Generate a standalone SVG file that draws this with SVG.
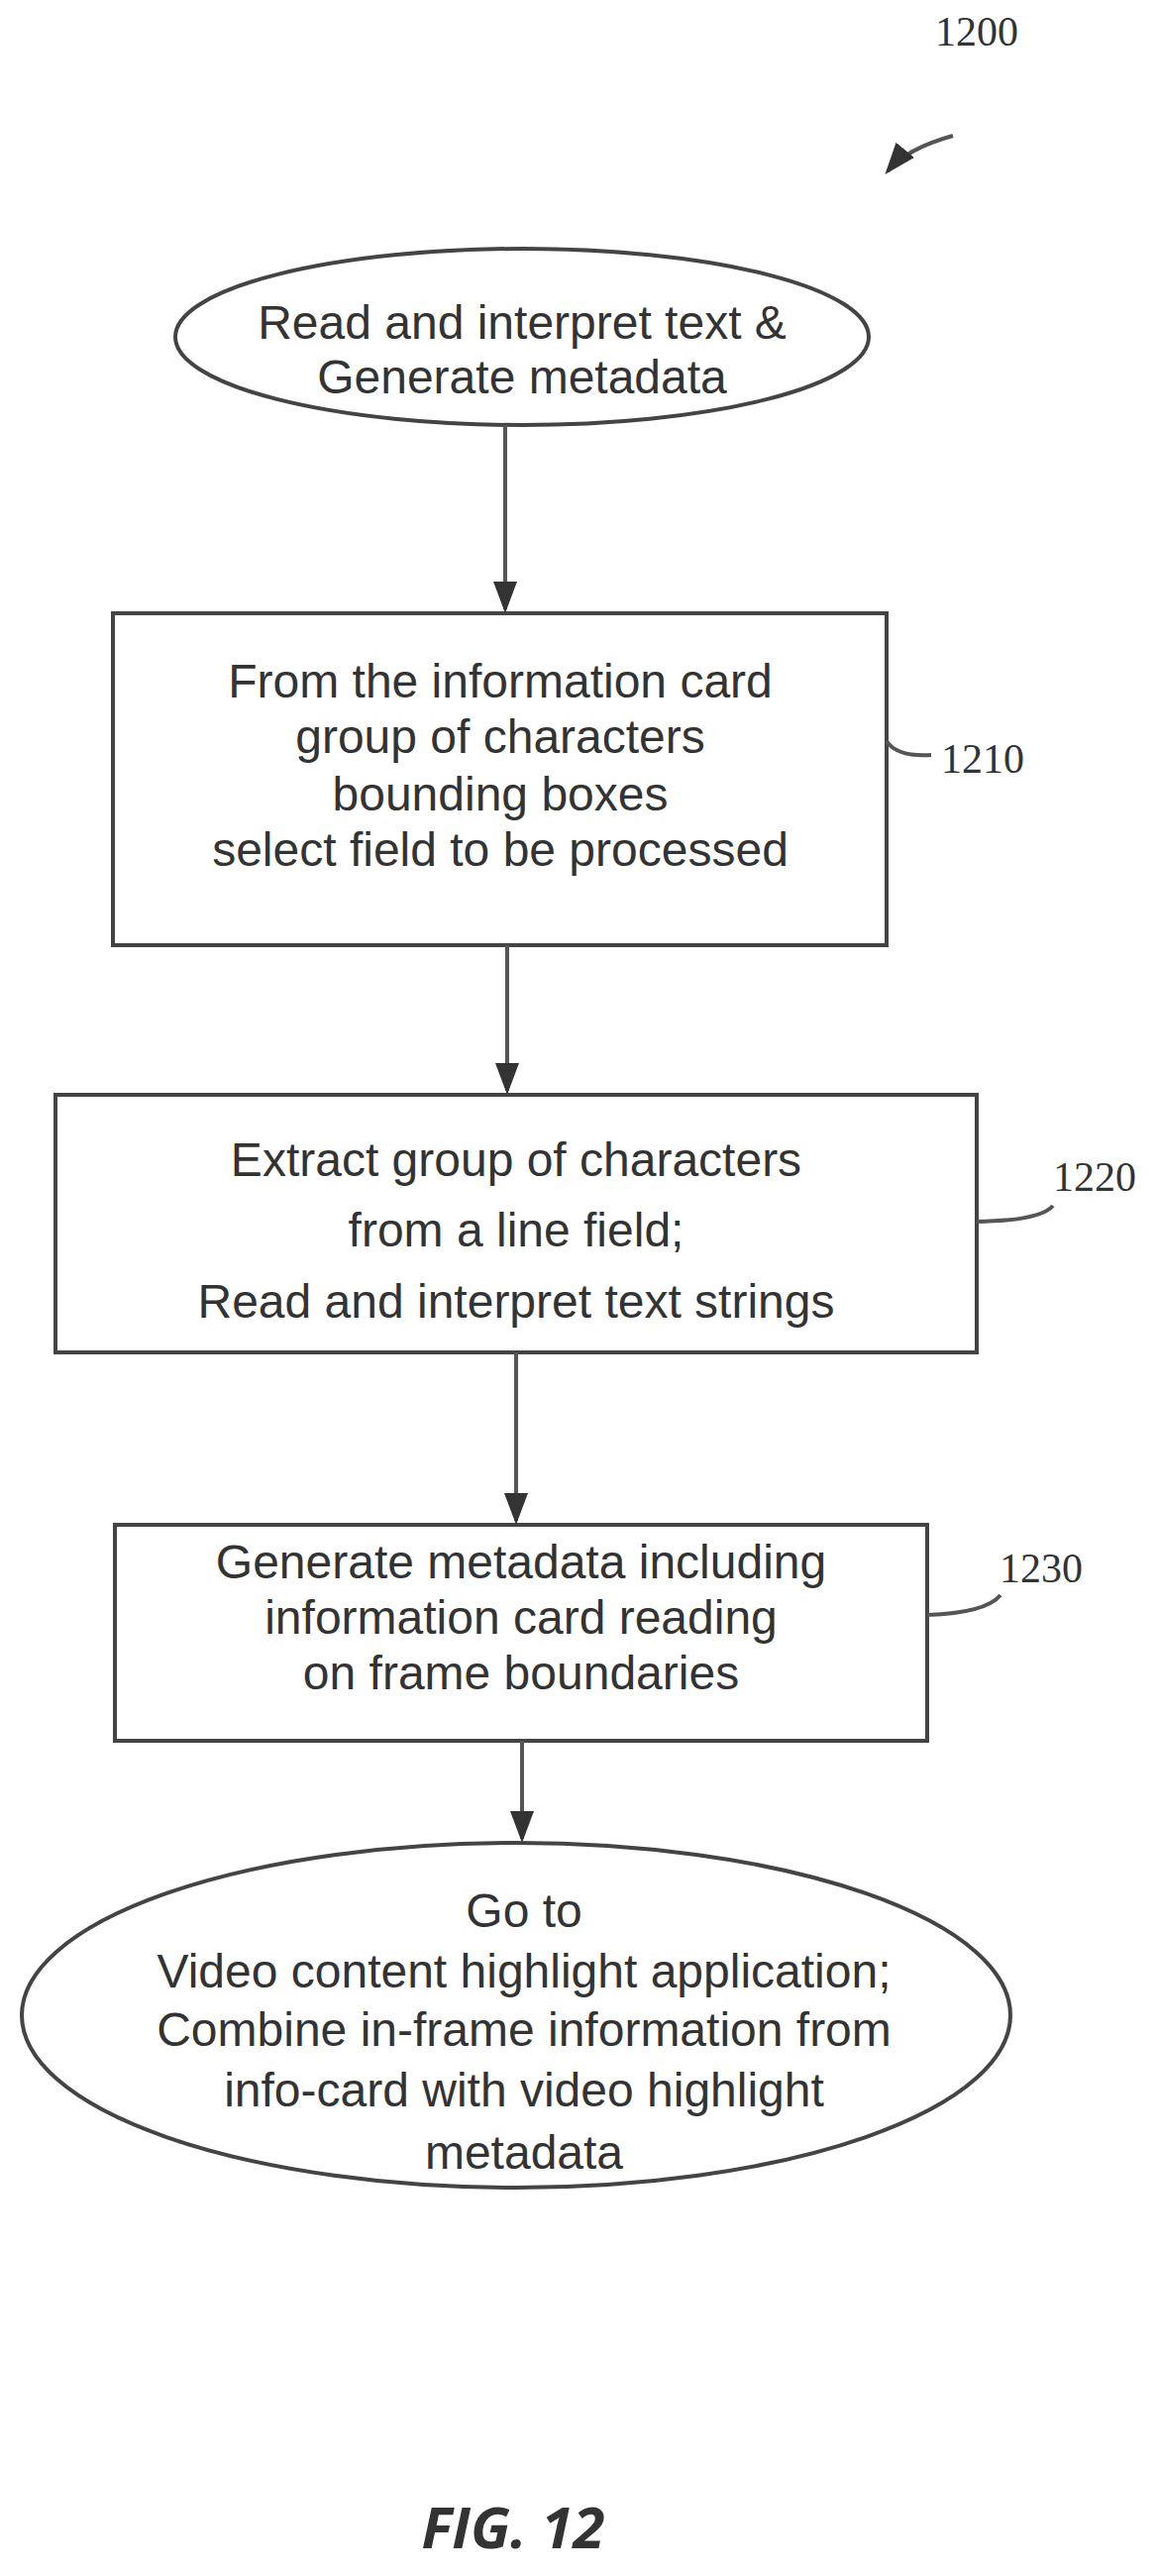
<svg xmlns="http://www.w3.org/2000/svg" width="1169" height="2600" viewBox="0 0 1169 2600">
<style>
.t{font-family:"Liberation Sans",Arial,sans-serif;font-size:48px;fill:#333;text-anchor:middle}
.r{font-family:"Liberation Serif",serif;font-size:42px;fill:#333}
.s{fill:none;stroke:#444;stroke-width:4}
.c{fill:none;stroke:#555;stroke-width:4}
</style>
<defs><marker id="a" markerWidth="8" markerHeight="6" refX="7" refY="3" orient="auto" markerUnits="strokeWidth"><path d="M0,0L8,3L0,6z" fill="#333"/></marker></defs>
<rect width="1169" height="2600" fill="#fff"/>
<g id="n1200"><text class="r" x="944" y="46">1200</text></g>
<g id="start"><ellipse class="s" cx="527" cy="340" rx="350" ry="89"/>
<text class="t" x="527" y="342">Read and interpret text &amp;</text><text class="t" x="527" y="397">Generate metadata</text></g>
<g id="n1210"><rect class="s" x="114" y="619" width="781" height="335"/>
<text class="t" x="505" y="704">From the information card</text><text class="t" x="505" y="760">group of characters</text><text class="t" x="505" y="818">bounding boxes</text><text class="t" x="505" y="874">select field to be processed</text>
<text class="r" x="950" y="780">1210</text></g>
<g id="n1220"><rect class="s" x="56" y="1105" width="930" height="260"/>
<text class="t" x="521" y="1187">Extract group of characters</text><text class="t" x="521" y="1258">from a line field;</text><text class="t" x="521" y="1330">Read and interpret text strings</text>
<text class="r" x="1063" y="1202">1220</text></g>
<g id="n1230"><rect class="s" x="116" y="1539" width="820" height="218"/>
<text class="t" x="526" y="1593">Generate metadata including</text><text class="t" x="526" y="1649">information card reading</text><text class="t" x="526" y="1705">on frame boundaries</text>
<text class="r" x="1009" y="1597">1230</text></g>
<g id="end"><ellipse class="s" cx="521" cy="2034" rx="499" ry="174"/>
<text class="t" x="529" y="1945">Go to</text><text class="t" x="529" y="2006">Video content highlight application;</text><text class="t" x="529" y="2065">Combine in-frame information from</text><text class="t" x="529" y="2126">info-card with video highlight</text><text class="t" x="529" y="2189">metadata</text></g>
<g id="connectors">
<path class="c" d="M962,137 Q915,150 896,173" marker-end="url(#a)"/>
<path class="c" d="M510,429V615" marker-end="url(#a)"/>
<path class="c" d="M512,954V1101" marker-end="url(#a)"/>
<path class="c" d="M521,1365V1535" marker-end="url(#a)"/>
<path class="c" d="M527,1757V1856" marker-end="url(#a)"/>
<path class="c" d="M895,748 Q905,764 940,762"/>
<path class="c" d="M986,1233 Q1050,1232 1063,1217"/>
<path class="c" d="M936,1630 Q995,1628 1010,1610"/>
</g>
<text x="518" y="2572" font-family="Open Sans,Liberation Sans,sans-serif" font-size="58" font-style="italic" font-weight="bold" text-anchor="middle" fill="#333">FIG. 12</text>
</svg>
